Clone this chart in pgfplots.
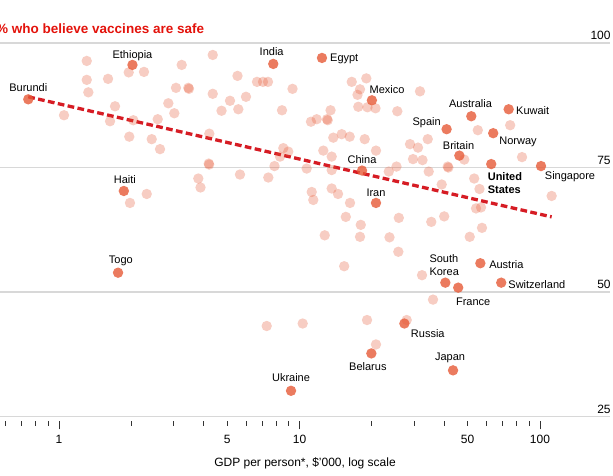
\documentclass[border=0pt]{standalone}
\usepackage{pgfplots}
\pgfplotsset{compat=1.18}
\usepackage{pgfplotstable}
\usepackage{fontspec}
\setmainfont{Liberation Sans}
\definecolor{dotc}{RGB}{230,90,55}
\definecolor{trend}{RGB}{214,28,36}
\definecolor{titlered}{RGB}{227,18,11}
\definecolor{gridc}{RGB}{216,216,216}

% GDP per person ($'000), % who believe vaccines are safe
\pgfplotstableread{
x y
1.304 96.4
1.949 94.1
2.256 94.2
3.237 95.6
1.304 92.6
1.599 92.8
1.324 90.1
3.065 91.0
3.449 91.0
3.47 90.8
1.049 85.5
1.710 87.3
1.630 84.3
2.037 84.5
2.848 87.9
3.016 85.9
2.573 84.7
1.960 81.2
2.429 80.7
2.630 78.7
4.193 75.8
4.21 75.6
4.217 81.8
3.795 72.8
3.876 71.0
2.316 69.7
1.973 67.9
5.656 73.6
7.419 73.0
7.870 75.3
8.563 78.9
8.98 78.2
8.297 77.2
10.71 74.8
11.24 70.1
11.41 68.5
4.357 97.6
5.523 93.4
6.657 92.2
7.050 92.2
7.396 92.2
9.353 90.8
4.357 89.8
5.140 88.4
5.991 89.2
4.739 86.4
5.566 86.7
8.457 86.5
16.49 92.2
18.96 92.9
17.85 90.7
17.43 89.6
17.56 87.2
19.17 87.1
20.70 86.9
25.51 86.3
13.46 86.5
11.16 84.2
11.79 84.7
13.01 84.7
13.1 84.5
13.82 81.0
14.98 81.7
16.17 81.2
18.67 80.7
12.56 78.4
13.61 77.2
20.80 78.4
25.31 75.2
23.51 74.2
13.61 74.5
31.70 90.3
55.14 82.5
75.16 83.5
34.14 80.7
28.81 79.7
31.10 79.0
29.65 76.7
32.47 76.5
48.44 76.6
41.33 75.2
41.6 75.0
84.2 77.1
34.46 74.2
53.27 72.8
13.61 70.8
14.46 69.7
16.22 67.9
15.58 65.1
17.98 63.5
25.88 64.9
12.73 61.4
17.85 61.1
23.67 61.0
25.76 58.1
15.34 55.2
56.03 70.7
111.8 69.3
39.02 71.6
54.20 66.8
56.85 67.0
39.97 65.2
35.32 64.1
57.39 62.9
51.03 61.1
32.32 53.4
35.91 48.5
7.305 43.2
10.31 43.7
19.09 44.4
27.91 44.4
20.80 39.5
}\faint

\pgfplotstableread{
x y
0.745 88.7
2.02 95.6
7.78 95.8
12.4 97.0
20.0 88.5
51.8 85.3
74.1 86.7
40.9 82.7
63.9 81.9
46.2 77.4
62.7 75.7
101 75.3
18.2 74.4
20.8 67.9
1.86 70.3
1.76 53.9
40.4 51.9
45.7 50.9
56.5 55.8
69.0 51.9
27.3 43.7
19.9 37.7
43.5 34.3
9.22 30.2
}\labelled

\begin{document}
\begin{tikzpicture}
\path[use as bounding box] (0,-59.3pt) rectangle (613pt,416.7pt);
\begin{axis}[
  at={(0,0)}, anchor=south west,
  scale only axis, width=610pt, height=373.7pt,
  xmode=log, xmin=0.5683, xmax=195.5, ymin=25, ymax=100,
  axis line style={draw=none},
  /pgf/number format/assume math mode=true,
  ytick={25,50,75,100}, ymajorgrids, grid style={gridc, line width=1.6pt},
  ytick pos=right, ytick style={draw=none},
  yticklabel style={anchor=south east, inner sep=0pt, xshift=-4.5pt, yshift=3pt, font=\fontsize{12}{14}\selectfont},
  xtick={1,5,10,50,100}, xticklabels={1,5,10,50,100},
  minor xtick={0.6,0.7,0.8,0.9,2,3,4,6,7,8,9,20,30,40,60,70,80,90},
  extra x ticks={1,10,100}, extra x tick labels={},
  extra x tick style={major tick length=8.6pt},
  xtick pos=bottom, tick align=outside, major tick length=5.3pt, minor tick length=5.3pt,
  every tick/.style={black!80, line width=0.9pt, yshift=-4pt},
  xticklabel style={anchor=north, inner sep=0pt, yshift=-13pt, font=\fontsize{12}{14}\selectfont},
  clip=false,
]
\addplot[only marks, color=dotc, mark=*, mark size=5.2pt, mark options={solid, draw opacity=0, fill=dotc, fill opacity=0.3}] table[x=x,y=y] {\faint};
\addplot[only marks, color=dotc, mark=*, mark size=5.2pt, mark options={solid, draw opacity=0, fill=dotc, fill opacity=0.8}] table[x=x,y=y] {\labelled};
\addplot[trend, line width=3.3pt, dash pattern=on 6.7pt off 3.4pt] coordinates {(0.745,89.2) (111.8,65.1)};

\tikzset{lab/.style={font=\fontsize{11}{12}\selectfont, inner sep=0pt, text=black}}
\node[lab, anchor=base] at (axis cs:0.745,88.7) [yshift=7.5pt] {Burundi};
\node[lab, anchor=base] at (axis cs:2.02,95.6) [yshift=6.7pt] {Ethiopia};
\node[lab, anchor=base] at (axis cs:7.78,95.8) [xshift=-1.6pt, yshift=8pt] {India};
\node[lab, anchor=base west] at (axis cs:12.4,97.0) [xshift=8pt, yshift=-3.7pt] {Egypt};
\node[lab, anchor=base west] at (axis cs:20.0,88.5) [xshift=-2.4pt, yshift=6.3pt] {Mexico};
\node[lab, anchor=base] at (axis cs:51.8,85.3) [xshift=-0.8pt, yshift=8.6pt] {Australia};
\node[lab, anchor=base west] at (axis cs:74.1,86.7) [xshift=7.3pt, yshift=-5pt] {Kuwait};
\node[lab, anchor=base east] at (axis cs:40.9,82.7) [xshift=-5.7pt, yshift=3.6pt] {Spain};
\node[lab, anchor=base west] at (axis cs:63.9,81.9) [xshift=6pt, yshift=-11.4pt] {Norway};
\node[lab, anchor=base] at (axis cs:46.2,77.4) [xshift=-0.8pt, yshift=6.3pt] {Britain};
\node[lab, anchor=base west, font=\bfseries\fontsize{11}{12}\selectfont] at (axis cs:62.7,75.7) [xshift=-3.6pt, yshift=-16.7pt] {United};
\node[lab, anchor=base west, font=\bfseries\fontsize{11}{12}\selectfont] at (axis cs:62.7,75.7) [xshift=-3.6pt, yshift=-29.3pt] {States};
\node[lab, anchor=base west] at (axis cs:101,75.3) [xshift=3.7pt, yshift=-13.7pt] {Singapore};
\node[lab, anchor=base] at (axis cs:18.2,74.4) [yshift=6.7pt] {China};
\node[lab, anchor=base] at (axis cs:20.8,67.9) [yshift=6pt] {Iran};
\node[lab, anchor=base] at (axis cs:1.86,70.3) [xshift=1pt, yshift=7.7pt] {Haiti};
\node[lab, anchor=base] at (axis cs:1.76,53.9) [xshift=2.8pt, yshift=8.7pt] {Togo};
\node[lab, anchor=base west] at (axis cs:40.4,51.9) [xshift=-16pt, yshift=20pt] {South};
\node[lab, anchor=base west] at (axis cs:40.4,51.9) [xshift=-16pt, yshift=7.6pt] {Korea};
\node[lab, anchor=base west] at (axis cs:56.5,55.8) [xshift=8.7pt, yshift=-5pt] {Austria};
\node[lab, anchor=base west] at (axis cs:69.0,51.9) [xshift=7pt, yshift=-6pt] {Switzerland};
\node[lab, anchor=base west] at (axis cs:45.7,50.9) [xshift=-2.3pt, yshift=-17.7pt] {France};
\node[lab, anchor=base west] at (axis cs:27.3,43.7) [xshift=6.4pt, yshift=-14pt] {Russia};
\node[lab, anchor=base] at (axis cs:19.9,37.7) [xshift=-3.5pt, yshift=-17.4pt] {Belarus};
\node[lab, anchor=base] at (axis cs:43.5,34.3) [xshift=-3pt, yshift=10.3pt] {Japan};
\node[lab, anchor=base] at (axis cs:9.22,30.2) [yshift=9pt] {Ukraine};
\end{axis}
\node[anchor=base west, inner sep=0pt, font=\bfseries\fontsize{13.5}{15}\selectfont, text=titlered] at (-4pt,383.4pt) {\% who believe vaccines are safe};
\node[anchor=base, inner sep=0pt, font=\fontsize{12}{14}\selectfont] at (305pt,-50pt) {GDP per person*, \$'000, log scale};
\end{tikzpicture}
\end{document}
